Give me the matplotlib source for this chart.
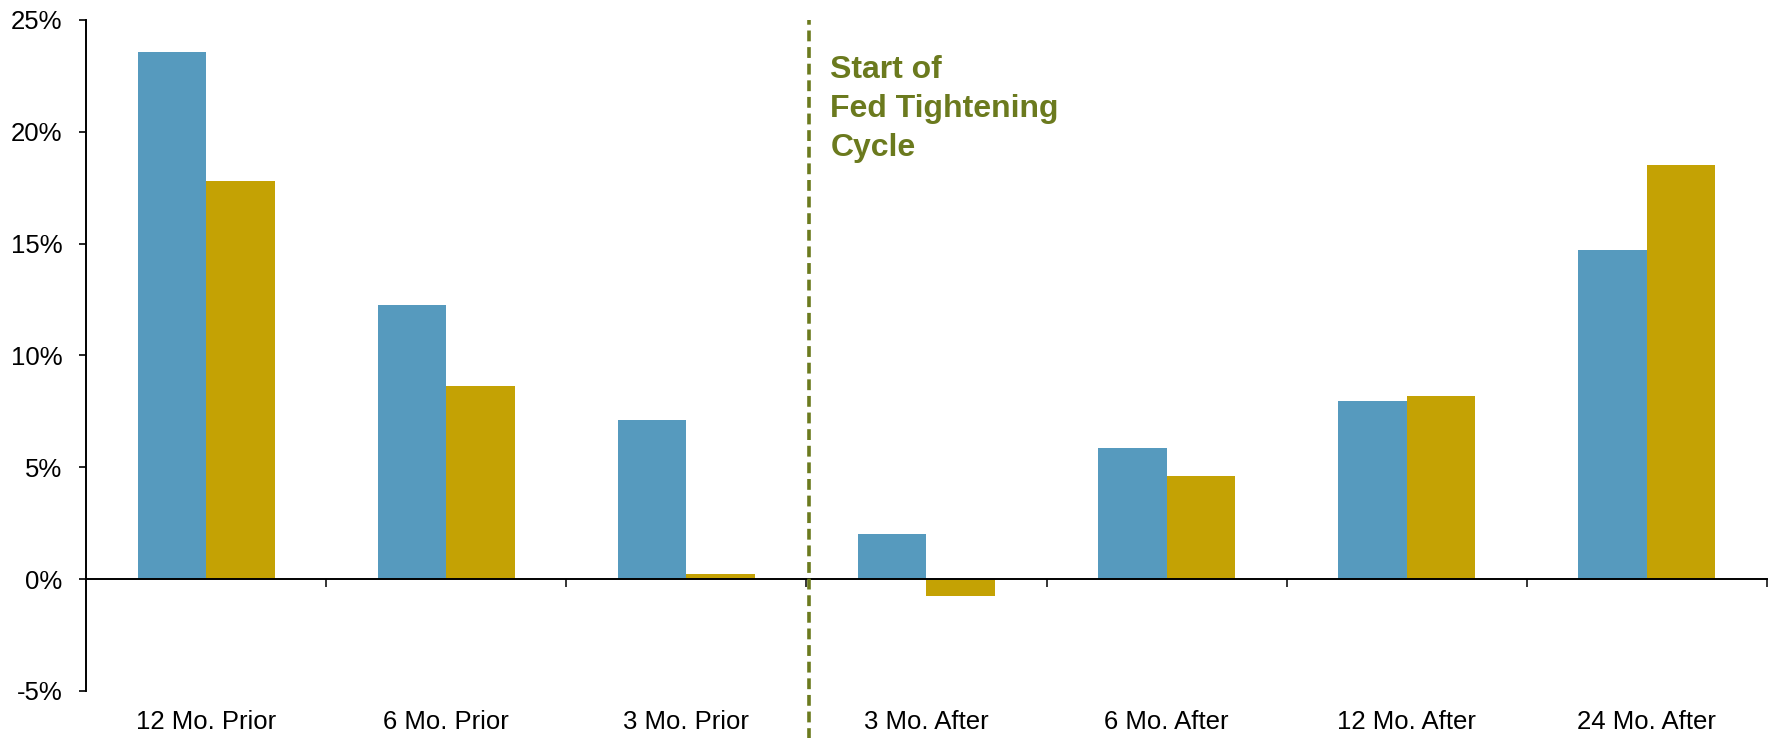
import matplotlib
matplotlib.use("Agg")
import matplotlib.pyplot as plt
import numpy as np
from matplotlib.ticker import FuncFormatter, FixedLocator

plt.rcParams['font.family'] = ['Liberation Sans', 'DejaVu Sans']

# Returns around the start of Fed tightening cycles (%)
categories = ["12 Mo. Prior", "6 Mo. Prior", "3 Mo. Prior", "3 Mo. After",
              "6 Mo. After", "12 Mo. After", "24 Mo. After"]
series_a = [23.55, 12.24, 7.12, 2.02, 5.87, 7.95, 14.72]
series_b = [17.81, 8.65, 0.22, -0.75, 4.61, 8.20, 18.50]
y_ticks = [-5, 0, 5, 10, 15, 20, 25]
annotation = "Start of\nFed Tightening\nCycle"

BLUE = "#569ABE"
GOLD = "#C4A204"
OLIVE = "#6B7A1E"

fig = plt.figure(figsize=(17.73, 7.38), dpi=100)
ax = fig.add_axes([0.0485, 0.0637, 0.9481, 0.9092])

x = np.arange(len(categories))
w = 0.285
ax.bar(x - w / 2, series_a, width=w, color=BLUE, zorder=2)
ax.bar(x + w / 2, series_b, width=w, color=GOLD, zorder=2)

ax.set_xlim(-0.5, len(categories) - 0.5)
ax.set_ylim(-5, 25)

# Axes styling
for s in ("top", "right"):
    ax.spines[s].set_visible(False)
ax.spines["bottom"].set_position(("data", 0))
ax.spines["bottom"].set_linewidth(1.4)
ax.spines["left"].set_linewidth(1.4)
ax.spines["bottom"].set_zorder(3)

ax.set_yticks(y_ticks)
ax.yaxis.set_major_formatter(FuncFormatter(lambda v, p: f"{v:.0f}%"))
ax.tick_params(axis="y", direction="out", length=5, width=1.2, pad=12, labelsize=18.5)

ax.set_xticks(x)
ax.set_xticklabels(categories)
ax.xaxis.set_minor_locator(FixedLocator(np.arange(0.5, len(categories), 1.0)))
ax.tick_params(axis="x", which="major", length=0, pad=94, labelsize=18.5)
ax.tick_params(axis="x", which="minor", direction="out", length=6, width=1.1)

# Start of tightening marker
ax.axvline(2.51, ymin=-0.075, ymax=1.0, color=OLIVE, lw=2.6,
           linestyle=(0, (3.0, 1.6)), clip_on=False, zorder=4)
ax.text(2.6, 23.42, annotation, color=OLIVE, fontsize=23, fontweight="bold",
        va="top", ha="left", linespacing=1.39)

fig.savefig("out.png", dpi=100)
